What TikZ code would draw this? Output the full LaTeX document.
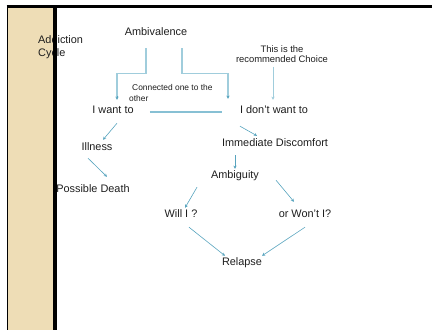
\documentclass[tikz,border=0pt]{standalone}
\usepackage{fontspec}
\setmainfont{Liberation Sans}
\usepackage{xcolor}
\definecolor{cyclebeige}{RGB}{238,221,182}
\definecolor{arrowblue}{RGB}{88,164,190}
\definecolor{elbowblue}{RGB}{160,205,220}
\definecolor{linkblue}{RGB}{135,192,212}
\definecolor{txtgray}{RGB}{30,30,30}
\usetikzlibrary{arrows.meta,positioning,calc}

\begin{document}
\begin{tikzpicture}[x=1pt, y=-1pt,
  lbl/.style={font=\fontsize{10.9}{13}\selectfont, text=txtgray, inner sep=0pt, text height=8pt, text depth=2pt},
  note/.style={font=\fontsize{8.4}{11}\selectfont, text=txtgray, inner sep=0pt, align=left},
  rnote/.style={font=\fontsize{9.4}{10.5}\selectfont, text=txtgray, inner sep=0pt, align=center},
  arr/.style={draw=arrowblue, line width=0.6pt, -{Stealth[length=3.2pt,width=3.2pt]}},
  elb/.style={draw=elbowblue, line width=1.1pt},
  link/.style={draw=linkblue, line width=1.6pt}
]
  \useasboundingbox (0,0) rectangle (435,330);

  \fill[cyclebeige] (8,7) rectangle (53,330);
  \node[lbl, anchor=west, align=left, text height=, text depth=] (cycle) at (38,47.5) {Addiction\\Cycle};
  \draw[black, line width=1pt] (7.5,6) -- (7.5,330);
  \draw[black, line width=2.5pt] (6.5,6.5) -- (432,6.5);
  \draw[black, line width=4pt] (55,5.5) -- (55,330);

  \node[lbl] (ambi) at (156,32) {Ambivalence};
  \node[rnote] (rec) at (282,54) {This is the\\recommended Choice};
  \node[note, anchor=north west] (conn) at (129,84) {\hspace*{3pt}Connected one to the\\other};

  \node[lbl] (want) at (113,110) {I want to};
  \node[lbl] (dont) at (274,110) {I don't want to};
  \node[lbl] (ill) at (97,147) {Illness};
  \node[lbl] (death) at (93,189) {Possible Death};
  \node[lbl] (imm) at (275,143) {Immediate Discomfort};
  \node[lbl] (amb) at (235,175) {Ambiguity};
  \node[lbl] (will) at (181,214) {Will I ?};
  \node[lbl] (wont) at (305,214) {or Won't I?};
  \node[lbl] (rel) at (242,262) {Relapse};

  \draw[elb] ($(ambi.south)+(-10,11)$) -- ++(0,25) -| ($(want.north)+(4,-8)$);
  \draw[arr] ($(want.north)+(4,-9)$) -- ($(want.north)+(4,-5)$);
  \draw[elb] ($(ambi.south)+(26,11)$) -- ++(0,25) -| ($(dont.north)+(-46,-8)$);
  \draw[arr] ($(dont.north)+(-46,-9)$) -- ($(dont.north)+(-46,-6)$);
  \draw[arr, draw=elbowblue] ($(rec.south)+(-9,4)$) -- ($(dont.north)+(-1,-5)$);

  \draw[link] ($(want.east)+(16,2)$) -- ($(dont.west)+(-18,2)$);

  \draw[arr] ($(want.south)+(4,8)$) -- ($(ill.north)+(6,-2)$);
  \draw[arr] ($(ill.south)+(-9,6)$) -- ($(death.north)+(14,-7)$);
  \draw[arr] ($(dont.south)+(-34,11)$) -- ($(imm.north)+(-18,-2)$);
  \draw[arr] ([yshift=-7pt]imm.south -| amb.north) -- ([yshift=1pt]amb.north);
  \draw[arr] ($(amb.south)+(-38,7)$) -- ($(will.north)+(4,-1)$);
  \draw[arr] ($(amb.south)+(41,0)$) -- ($(wont.north)+(-11,-7)$);
  \draw[arr] ($(will.south)+(8,8)$) -- ($(rel.north)+(-17,-1)$);
  \draw[arr] ($(wont.south)+(0,8)$) -- ($(rel.north)+(20,-1)$);
\end{tikzpicture}
\end{document}
